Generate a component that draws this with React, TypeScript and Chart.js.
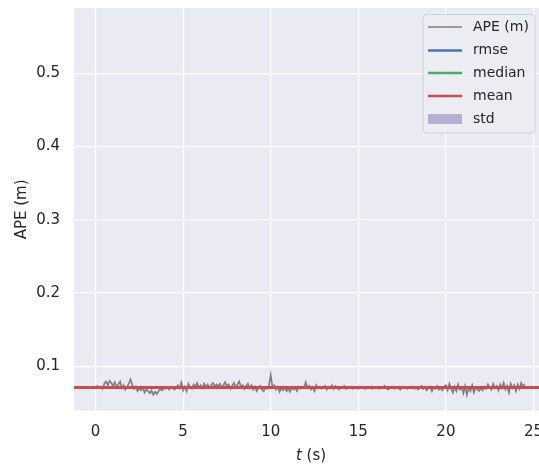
import React, { useEffect, useRef } from "react";
import { Chart, registerables } from "chart.js";

Chart.register(...registerables);

// ---- data ----
const T_START = 0;
const T_STEP = 0.1;
const apeValues = [
  0.071, 0.073, 0.070, 0.072, 0.069, 0.076, 0.079, 0.074, 0.080, 0.077,
  0.073, 0.078, 0.071, 0.075, 0.079, 0.070, 0.074, 0.068, 0.072, 0.076,
  0.082, 0.074, 0.069, 0.072, 0.066, 0.070, 0.067, 0.071, 0.064, 0.068,
  0.066, 0.063, 0.067, 0.061, 0.065, 0.062, 0.066, 0.069, 0.067, 0.070,
  0.069, 0.071, 0.068, 0.072, 0.070, 0.068, 0.071, 0.074, 0.070, 0.078,
  0.067, 0.072, 0.066, 0.076, 0.071, 0.069, 0.075, 0.072, 0.077, 0.071,
  0.074, 0.070, 0.076, 0.072, 0.075, 0.071, 0.074, 0.077, 0.072, 0.075,
  0.073, 0.076, 0.071, 0.074, 0.078, 0.072, 0.075, 0.069, 0.073, 0.077,
  0.071, 0.075, 0.079, 0.072, 0.074, 0.069, 0.073, 0.076, 0.070, 0.074,
  0.068, 0.072, 0.066, 0.070, 0.073, 0.068, 0.066, 0.071, 0.069, 0.073,
  0.088, 0.071, 0.074, 0.068, 0.072, 0.065, 0.070, 0.067, 0.071, 0.066,
  0.069, 0.065, 0.071, 0.068, 0.070, 0.066, 0.072, 0.069, 0.071, 0.070,
  0.078, 0.070, 0.073, 0.068, 0.071, 0.066, 0.074, 0.070, 0.072, 0.069,
  0.071, 0.073, 0.068, 0.072, 0.070, 0.074, 0.069, 0.073, 0.071, 0.068,
  0.072, 0.070, 0.073, 0.069, 0.071, 0.070, 0.072, 0.069, 0.071, 0.070,
  0.069, 0.071, 0.072, 0.070, 0.069, 0.071, 0.070, 0.072, 0.069, 0.071,
  0.070, 0.072, 0.069, 0.071, 0.070, 0.073, 0.070, 0.068, 0.071, 0.070,
  0.072, 0.069, 0.071, 0.070, 0.068, 0.071, 0.072, 0.070, 0.069, 0.071,
  0.070, 0.072, 0.069, 0.071, 0.068, 0.070, 0.073, 0.069, 0.071, 0.067,
  0.070, 0.072, 0.066, 0.071, 0.069, 0.073, 0.068, 0.070, 0.067, 0.072,
  0.074, 0.067, 0.076, 0.069, 0.064, 0.072, 0.066, 0.075, 0.068, 0.071,
  0.063, 0.073, 0.061, 0.070, 0.066, 0.074, 0.064, 0.071, 0.068, 0.066,
  0.070, 0.067, 0.072, 0.069, 0.075, 0.071, 0.068, 0.076, 0.070, 0.073,
  0.067, 0.075, 0.070, 0.077, 0.068, 0.073, 0.064, 0.076, 0.070, 0.074,
  0.066, 0.075, 0.069, 0.077, 0.071, 0.076,
];
const RMSE = 0.0713;
const MEDIAN = 0.0706;
const MEAN = 0.0708;
const STD = 0.0016;

const X_MIN = -1.23;
const X_MAX = 25.83;
const Y_MIN = 0.0392;
const Y_MAX = 0.589;
const legendLabels = ["APE (m)", "rmse", "median", "mean", "std"];
const X_TITLE_ITALIC = "t";
const X_TITLE_REST = " (s)";
const Y_TITLE = "APE (m)";

const COLORS = {
  ape: "#808080",
  rmse: "#4c72b0",
  median: "#55a868",
  mean: "#c44e52",
  std: "rgba(129,114,178,0.5)",
  text: "#262626",
  bg: "#eaeaf2",
};
const FONT = "'DejaVu Sans', sans-serif";

const apePoints = apeValues.map((v, i) => ({ x: T_START + i * T_STEP, y: v }));
const hline = (y: number) => [
  { x: X_MIN, y },
  { x: X_MAX, y },
];

const decorPlugin = {
  id: "decor",
  beforeDraw(chart: any) {
    const { ctx, chartArea: a } = chart;
    ctx.save();
    ctx.fillStyle = COLORS.bg;
    ctx.fillRect(a.left, a.top, a.right - a.left, a.bottom - a.top);
    ctx.restore();
  },
  afterDraw(chart: any) {
    const { ctx, chartArea: a } = chart;
    ctx.save();
    // axis titles
    ctx.fillStyle = COLORS.text;
    ctx.textBaseline = "middle";
    ctx.font = `italic 15px ${FONT}`;
    const w1 = ctx.measureText(X_TITLE_ITALIC).width;
    ctx.font = `15px ${FONT}`;
    const w2 = ctx.measureText(X_TITLE_REST).width;
    const cx = (a.left + a.right) / 2;
    const x0 = cx - (w1 + w2) / 2;
    ctx.textAlign = "left";
    ctx.font = `italic 15px ${FONT}`;
    ctx.fillText(X_TITLE_ITALIC, x0, 456);
    ctx.font = `15px ${FONT}`;
    ctx.fillText(X_TITLE_REST, x0 + w1, 456);

    ctx.save();
    ctx.translate(22, (a.top + a.bottom) / 2);
    ctx.rotate(-Math.PI / 2);
    ctx.textAlign = "center";
    ctx.fillText(Y_TITLE, 0, 0);
    ctx.restore();

    // legend
    const bx = 423, by = 14.5, bw = 112, bh = 118.5, r = 4;
    ctx.beginPath();
    ctx.moveTo(bx + r, by);
    ctx.arcTo(bx + bw, by, bx + bw, by + bh, r);
    ctx.arcTo(bx + bw, by + bh, bx, by + bh, r);
    ctx.arcTo(bx, by + bh, bx, by, r);
    ctx.arcTo(bx, by, bx + bw, by, r);
    ctx.closePath();
    ctx.fillStyle = "rgba(236,236,243,0.85)";
    ctx.fill();
    ctx.strokeStyle = "#d0d0d6";
    ctx.lineWidth = 1;
    ctx.stroke();

    const rows = [27, 50.5, 73, 96, 119];
    const lineColors = [COLORS.ape, COLORS.rmse, COLORS.median, COLORS.mean];
    ctx.font = `14px ${FONT}`;
    ctx.textAlign = "left";
    ctx.textBaseline = "middle";
    legendLabels.forEach((lab, i) => {
      const y = rows[i];
      if (i < 4) {
        ctx.beginPath();
        ctx.moveTo(428, y);
        ctx.lineTo(462, y);
        ctx.strokeStyle = lineColors[i];
        ctx.lineWidth = i === 0 ? 1.5 : 2.5;
        ctx.stroke();
      } else {
        ctx.fillStyle = COLORS.std;
        ctx.fillRect(428, y - 5, 34, 10);
      }
      ctx.fillStyle = COLORS.text;
      ctx.fillText(lab, 473, y);
    });
    ctx.restore();
  },
};

export default function App() {
  const ref = useRef<HTMLCanvasElement | null>(null);
  useEffect(() => {
    if (!ref.current) return;
    const chart = new Chart(ref.current, {
      type: "line",
      data: {
        datasets: [
          {
            label: "APE (m)",
            data: apePoints,
            borderColor: COLORS.ape,
            borderWidth: 1.7,
            pointRadius: 0,
            fill: false,
            tension: 0,
            order: 6,
          },
          {
            label: "stdLow",
            data: hline(MEAN - STD),
            borderWidth: 0,
            borderColor: "rgba(0,0,0,0)",
            pointRadius: 0,
            fill: false,
            order: 5,
          },
          {
            label: "std",
            data: hline(MEAN + STD),
            borderWidth: 0,
            borderColor: "rgba(0,0,0,0)",
            backgroundColor: COLORS.std,
            pointRadius: 0,
            fill: "-1",
            order: 4,
          },
          {
            label: "rmse",
            data: hline(RMSE),
            borderColor: COLORS.rmse,
            borderWidth: 2.5,
            pointRadius: 0,
            fill: false,
            order: 3,
          },
          {
            label: "median",
            data: hline(MEDIAN),
            borderColor: COLORS.median,
            borderWidth: 2.5,
            pointRadius: 0,
            fill: false,
            order: 2,
          },
          {
            label: "mean",
            data: hline(MEAN),
            borderColor: COLORS.mean,
            borderWidth: 3,
            pointRadius: 0,
            fill: false,
            order: 1,
          },
        ],
      },
      options: {
        responsive: false,
        animation: false,
        devicePixelRatio: 1,
        layout: { padding: { top: 8, right: 0, bottom: 0, left: 0 } },
        plugins: { legend: { display: false }, tooltip: { enabled: false } },
        scales: {
          x: {
            type: "linear",
            min: X_MIN,
            max: X_MAX,
            border: { display: false },
            grid: { color: "#ffffff", lineWidth: 1.2, drawTicks: false },
            ticks: {
              stepSize: 5,
              includeBounds: false,
              padding: 12,
              color: COLORS.text,
              font: { family: FONT, size: 15 },
              maxRotation: 0,
              autoSkip: false,
              callback: (v: any) => String(Math.round(Number(v))),
            },
            afterFit: (s: any) => {
              s.height = 466 - 410.7;
              s.paddingLeft = 0;
              s.paddingRight = 0;
            },
          },
          y: {
            type: "linear",
            min: Y_MIN,
            max: Y_MAX,
            border: { display: false },
            grid: { color: "#ffffff", lineWidth: 1.2, drawTicks: false },
            ticks: {
              stepSize: 0.1,
              includeBounds: false,
              padding: 14,
              color: COLORS.text,
              font: { family: FONT, size: 15 },
              callback: (v: any) => Number(v).toFixed(1),
            },
            afterFit: (s: any) => {
              s.width = 74;
              s.paddingTop = 0;
              s.paddingBottom = 0;
            },
          },
        },
      },
      plugins: [decorPlugin],
    } as any);
    return () => chart.destroy();
  }, []);
  return (
    <div
      style={{
        position: "absolute",
        left: 0,
        top: 0,
        width: 539,
        height: 466,
        overflow: "hidden",
        background: "#ffffff",
      }}
    >
      <canvas ref={ref} width={548} height={466} style={{ display: "block" }} />
    </div>
  );
}
